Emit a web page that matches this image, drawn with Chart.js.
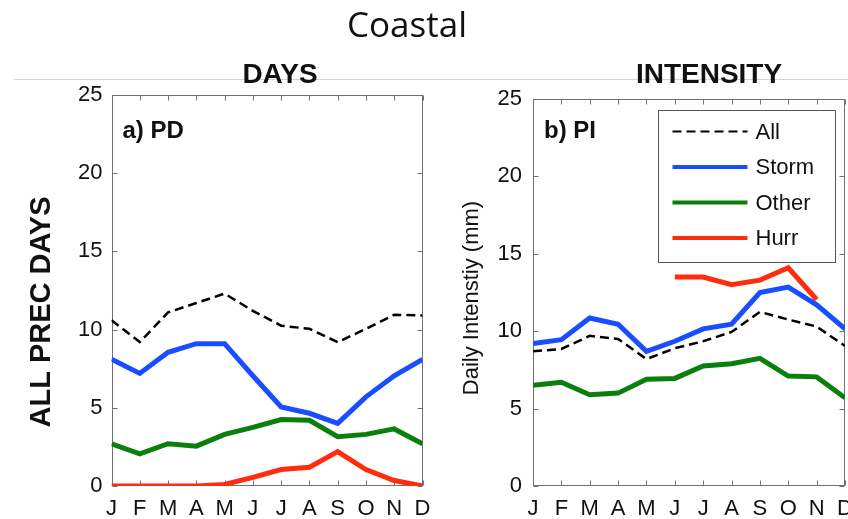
<!DOCTYPE html>
<html>
<head>
<meta charset="utf-8">
<script src="https://cdn.jsdelivr.net/npm/chart.js@4.4.1/dist/chart.umd.min.js"></script>
<style>
  html, body { margin: 0; padding: 0; background: #fff; }
  #wrap { position: relative; width: 848px; height: 519px; overflow: hidden; }
  canvas { position: absolute; left: 0; top: 0; }
</style>
</head>
<body>
<div id="wrap">
  <canvas id="daysChart" width="848" height="519"></canvas>
  <canvas id="intChart" width="848" height="519"></canvas>
</div>
<script>
// months and y range shared by both panels
const months = ['J', 'F', 'M', 'A', 'M', 'J', 'J', 'A', 'S', 'O', 'N', 'D'];
const yMin = 0, yMax = 25, yStep = 5;

// a) precipitation days per month
const daysAll   = [10.6, 9.2, 11.1, 11.7, 12.3, 11.2, 10.25, 10.05, 9.2, 10.05, 10.95, 10.9];
const daysStorm = [8.1, 7.2, 8.55, 9.1, 9.1, 7.05, 5.05, 4.65, 4.0, 5.7, 7.05, 8.1];
const daysOther = [2.7, 2.05, 2.7, 2.55, 3.3, 3.75, 4.25, 4.2, 3.15, 3.3, 3.65, 2.7];
const daysHurr  = [0, 0, 0, 0, 0.1, 0.55, 1.05, 1.2, 2.2, 1.05, 0.35, 0];

// b) daily intensity (mm)
const intAll   = [8.7, 8.85, 9.7, 9.5, 8.2, 8.9, 9.35, 9.95, 11.25, 10.75, 10.3, 9.05];
const intStorm = [9.2, 9.45, 10.85, 10.45, 8.7, 9.35, 10.15, 10.45, 12.5, 12.85, 11.7, 10.15];
const intOther = [6.5, 6.7, 5.9, 6.0, 6.9, 6.95, 7.75, 7.9, 8.25, 7.1, 7.05, 5.7];
const intHurr  = [null, null, null, null, null, 13.5, 13.5, 13.0, 13.3, 14.1, 12.05, null];

const BLUE = '#1a4dff', GREEN = '#0b7f0b', RED = '#ff2d0d';
const TXT = '#111';
const FONT = '"Liberation Sans", Arial, sans-serif';

function makeSets(all, storm, other, hurr) {
  const line = (label, data, color, w, dash) => ({
    label, data, borderColor: color, borderWidth: w, borderDash: dash || [],
    pointRadius: 0, tension: 0, fill: false, clip: 0, spanGaps: false
  });
  return [
    line('All', all, '#000', 2.5, [9, 5]),
    line('Storm', storm, BLUE, 5),
    line('Other', other, GREEN, 5),
    line('Hurr', hurr, RED, 5)
  ];
}

// box, inward ticks, titles and the legend
const framePlugin = {
  id: 'frame',
  beforeDraw(chart, args, o) {
    if (!o.topRule) return;
    const ctx = chart.ctx;
    ctx.save();
    ctx.strokeStyle = '#d4d4d4';
    ctx.lineWidth = 1;
    ctx.beginPath();
    ctx.moveTo(14, 79.5); ctx.lineTo(848, 79.5);
    ctx.stroke();
    ctx.fillStyle = TXT;
    ctx.font = '35px "Open Sans", sans-serif';
    ctx.textAlign = 'center';
    ctx.textBaseline = 'alphabetic';
    ctx.fillText('Coastal', 407, 37);
    ctx.restore();
  },
  beforeDatasetsDraw(chart) {
    const {ctx, chartArea: a, scales: {x, y}} = chart;
    const L = Math.round(a.left) + 0.5, R = Math.round(a.right) - 0.5;
    const T = Math.round(a.top) + 0.5, B = Math.round(a.bottom) - 0.5;
    ctx.save();
    ctx.strokeStyle = '#707070';
    ctx.lineWidth = 1;
    ctx.strokeRect(L, T, R - L, B - T);
    ctx.beginPath();
    x.ticks.forEach((t, i) => {
      const px = Math.round(x.getPixelForTick(i)) + 0.5;
      ctx.moveTo(px, B); ctx.lineTo(px, B - 5);
      ctx.moveTo(px, T); ctx.lineTo(px, T + 5);
    });
    y.ticks.forEach((t, i) => {
      const py = Math.round(y.getPixelForTick(i)) + 0.5;
      ctx.moveTo(L, py); ctx.lineTo(L + 5, py);
      ctx.moveTo(R, py); ctx.lineTo(R - 5, py);
    });
    ctx.stroke();
    ctx.restore();
  },
  afterDraw(chart, args, o) {
    const {ctx, chartArea: a} = chart;
    ctx.save();
    ctx.fillStyle = TXT;
    ctx.textBaseline = 'alphabetic';

    // panel header
    ctx.font = 'bold 28px ' + FONT;
    ctx.textAlign = 'center';
    ctx.fillText(o.header, o.headerX, 83);

    // panel tag
    ctx.font = 'bold 24px ' + FONT;
    ctx.textAlign = 'left';
    ctx.fillText(o.tag, a.left + 11, 138);

    // y title
    ctx.save();
    ctx.translate(o.yTitleX, o.yTitleY);
    ctx.rotate(-Math.PI / 2);
    ctx.font = o.yTitleFont;
    ctx.textAlign = 'center';
    ctx.textBaseline = 'middle';
    ctx.fillText(o.yTitle, 0, 0);
    ctx.restore();

    if (o.legend) {
      const bx = a.left + 125.5, by = a.top + 11.5, bw = 177, bh = 152;
      ctx.fillStyle = '#fff';
      ctx.fillRect(bx, by, bw, bh);
      ctx.strokeStyle = '#555';
      ctx.lineWidth = 1;
      ctx.strokeRect(bx, by, bw, bh);
      chart.data.datasets.forEach((ds, i) => {
        const ly = by + 21 + i * 35.5;
        ctx.save();
        ctx.strokeStyle = ds.borderColor;
        ctx.lineWidth = ds.borderWidth === 5 ? 4 : 2;
        ctx.setLineDash(ds.borderDash);
        ctx.beginPath();
        ctx.moveTo(bx + 14, ly); ctx.lineTo(bx + 89, ly);
        ctx.stroke();
        ctx.restore();
        ctx.fillStyle = TXT;
        ctx.font = '22px ' + FONT;
        ctx.textAlign = 'left';
        ctx.textBaseline = 'middle';
        ctx.fillText(ds.label, bx + 97, ly + 1);
      });
    }
    ctx.restore();
  }
};

function makeChart(id, sets, area, yPad, frameOpts) {
  return new Chart(document.getElementById(id), {
    type: 'line',
    data: { labels: months, datasets: sets },
    plugins: [framePlugin],
    options: {
      responsive: false,
      animation: false,
      events: [],
      layout: { padding: { left: 0, top: area.top, right: 848 - area.right, bottom: 0 } },
      plugins: { legend: { display: false }, tooltip: { enabled: false }, title: { display: false }, frame: frameOpts },
      scales: {
        x: {
          type: 'category',
          offset: false,
          grid: { display: false, drawTicks: false },
          border: { display: false },
          ticks: { color: TXT, font: { family: FONT, size: 22 }, padding: 10, maxRotation: 0, autoSkip: false },
          afterFit(s) { s.height = 519 - area.bottom; s.paddingLeft = 0; s.paddingRight = 0; }
        },
        y: {
          min: yMin, max: yMax,
          grid: { display: false, drawTicks: false },
          border: { display: false },
          ticks: { stepSize: yStep, color: TXT, font: { family: FONT, size: 22 }, padding: yPad },
          afterFit(s) { s.width = area.left; s.paddingTop = 0; s.paddingBottom = 0; }
        }
      }
    }
  });
}

makeChart('daysChart', makeSets(daysAll, daysStorm, daysOther, daysHurr),
  { left: 111.5, right: 422.5, top: 95, bottom: 486 }, 9,
  { topRule: true, header: 'DAYS', headerX: 280, tag: 'a) PD',
    yTitle: 'ALL PREC DAYS', yTitleFont: 'bold 29px ' + FONT, yTitleX: 42, yTitleY: 312, legend: false });

makeChart('intChart', makeSets(intAll, intStorm, intOther, intHurr),
  { left: 533, right: 845, top: 99, bottom: 486 }, 11,
  { topRule: false, header: 'INTENSITY', headerX: 709, tag: 'b) PI',
    yTitle: 'Daily Intenstiy (mm)', yTitleFont: '22px ' + FONT, yTitleX: 472, yTitleY: 298, legend: true });
</script>
</body>
</html>
